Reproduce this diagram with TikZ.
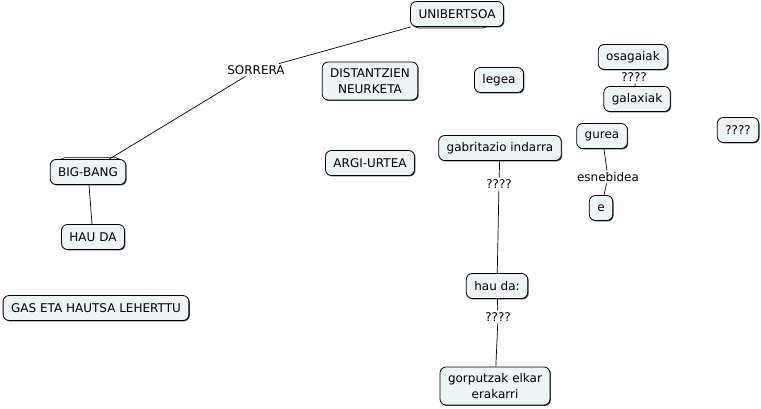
\documentclass[tikz,border=0pt]{standalone}
\usepackage{fontspec}
\setmainfont{DejaVu Sans}
\usetikzlibrary{shadows}
\definecolor{conceptfill}{HTML}{EEF3F5}
\tikzset{
  concept/.style={draw, line width=0.8pt, rounded corners=6pt, fill=conceptfill, inner xsep=8pt,
    minimum height=25pt, align=center,
    drop shadow={shadow xshift=0.9pt, shadow yshift=-0.9pt, opacity=1, fill=black!75}},
  twoline/.style={minimum height=38pt},
  stackup/.style={copy shadow={shadow scale=0.8, shadow yshift=5.5pt, draw, fill=conceptfill}},
  stackdown/.style={copy shadow={shadow scale=0.8, shadow xshift=-8pt, shadow yshift=-5pt, draw, fill=conceptfill}},
  linkword/.style={inner sep=1.5pt},
}
\begin{document}
\begin{tikzpicture}[x=1pt, y=-1pt, font=\fontsize{12}{16}\selectfont, line width=0.7pt]
  \useasboundingbox (0,0) rectangle (761,408);
  % concepts
  \node[concept, stackdown] (uni)  at (457,14)  {UNIBERTSOA};
  \node[concept, stackup]   (bb)   at (88,172)  {BIG-BANG};
  \node[concept] (hau)  at (93,237)  {HAU DA};
  \node[concept] (gas)  at (96,308)  {GAS ETA HAUTSA LEHERTTU};
  \node[concept, twoline] (dist) at (370,81)  {DISTANTZIEN\\NEURKETA};
  \node[concept] (argi) at (370,163) {ARGI-URTEA};
  \node[concept] (leg)  at (499,80)  {legea};
  \node[concept] (grav) at (500,148) {gabritazio indarra};
  \node[concept] (hd)   at (497,286) {hau da:};
  \node[concept, twoline] (gorp) at (495,386) {gorputzak elkar\\erakarri};
  \node[concept] (osa)  at (633,57)  {osagaiak};
  \node[concept] (gal)  at (637,99)  {galaxiak};
  \node[concept] (gur)  at (602,136) {gurea};
  \node[concept] (e)    at (601,208) {e};
  \node[concept] (q)    at (738,130) {????};
  % linking words
  \node[linkword] (sor) at (256,70)  {SORRERA};
  \node[linkword] (q1)  at (499,184) {????};
  \node[linkword] (q2)  at (498,317) {????};
  \node[linkword] (q3)  at (634,77)  {????};
  \node[linkword] (esn) at (608,177) {esnebidea};
  % connections
  \draw (uni) -- (sor) -- (bb);
  \draw (bb)  -- (hau);
  \draw (grav) -- (q1) -- (hd);
  \draw (hd)  -- (q2) -- (gorp);
  \draw (osa) -- (q3) -- (gal);
  \draw (gur) -- (esn) -- (e);
\end{tikzpicture}
\end{document}
